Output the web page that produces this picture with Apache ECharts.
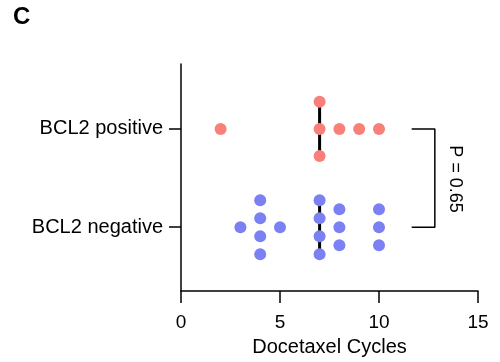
<!DOCTYPE html>
<html>
<head>
<meta charset="utf-8">
<script src="https://cdn.jsdelivr.net/npm/echarts@6/dist/echarts.min.js"></script>
<style>html,body{margin:0;padding:0;background:#fff;}#c{width:500px;height:362px;}</style>
</head>
<body>
<div id="c"></div>
<script>
// ---- data ----
const categories = ['BCL2 negative', 'BCL2 positive'];
const positiveCycles = [2, 7, 7, 7, 8, 9, 10];
const negativeCycles = [3, 4, 4, 4, 4, 5, 7, 7, 7, 7, 8, 8, 8, 10, 10, 10];
const xTicks = [0, 5, 10, 15];
const pValueText = 'P = 0.65';

// ---- style ----
const FONT = 'Liberation Sans, Arial, sans-serif';
const posColor = '#F98079';
const negColor = '#7B80F3';

// swarm layout: stack duplicates vertically around the group line
function swarm(values, groupIndex, spacing) {
  const counts = {};
  values.forEach(v => counts[v] = (counts[v] || 0) + 1);
  const seen = {};
  return values.map(v => {
    const n = counts[v];
    const i = seen[v] = (seen[v] === undefined ? 0 : seen[v] + 1);
    return [v, groupIndex + ((n - 1) / 2 - i) * spacing];
  });
}
function median(arr) {
  const s = arr.slice().sort((a, b) => a - b);
  const m = Math.floor(s.length / 2);
  return s.length % 2 ? s[m] : (s[m - 1] + s[m]) / 2;
}
const medHalf = 0.275;
const posMed = median(positiveCycles);
const negMed = median(negativeCycles);

const chart = echarts.init(document.getElementById('c'));
chart.setOption({
  animation: false,
  backgroundColor: '#fff',
  grid: { left: 181, right: 22, top: 64, bottom: 67 },
  xAxis: {
    type: 'value', min: xTicks[0], max: xTicks[xTicks.length - 1], interval: 5,
    name: 'Docetaxel Cycles', nameLocation: 'middle', nameGap: 45,
    nameTextStyle: { fontFamily: FONT, fontSize: 20, color: '#000' },
    axisLine: { show: true, onZero: false, lineStyle: { color: '#000', width: 1.5 } },
    axisTick: { show: true, length: 12, lineStyle: { color: '#000', width: 1.5 } },
    axisLabel: { fontFamily: FONT, fontSize: 19, color: '#000', margin: 22 },
    splitLine: { show: false }
  },
  yAxis: {
    type: 'value', min: -0.65, max: 1.66,
    axisLine: { show: true, onZero: false, lineStyle: { color: '#000', width: 1.5 } },
    axisTick: { show: true, length: 12, customValues: [0, 1], lineStyle: { color: '#000', width: 1.5 } },
    axisLabel: {
      customValues: [0, 1], fontFamily: FONT, fontSize: 20, color: '#000', margin: 18,
      formatter: v => categories[Math.round(v)]
    },
    splitLine: { show: false }
  },
  series: [
    {
      type: 'line', data: [[posMed, 1 - medHalf], [posMed, 1 + medHalf]],
      symbol: 'none', lineStyle: { color: '#000', width: 3 }, z: 1
    },
    {
      type: 'line', data: [[negMed, 0 - medHalf], [negMed, 0 + medHalf]],
      symbol: 'none', lineStyle: { color: '#000', width: 3 }, z: 1
    },
    {
      type: 'scatter', data: swarm(positiveCycles, 1, 0.275),
      symbolSize: 12, itemStyle: { color: posColor, opacity: 1 }, z: 3
    },
    {
      type: 'scatter', data: swarm(negativeCycles, 0, 0.183),
      symbolSize: 12, itemStyle: { color: negColor, opacity: 1 }, z: 3
    },
    {
      type: 'line', data: [[11.65, 1], [12.82, 1], [12.82, 0], [11.65, 0]],
      symbol: 'none', lineStyle: { color: '#000', width: 1.5 }, z: 2
    }
  ],
  graphic: [
    { type: 'text', left: 13, top: 5, style: { text: 'C', font: 'bold 24px ' + FONT, fill: '#000' } },
    {
      type: 'text', x: 455, y: 179, rotation: -Math.PI / 2,
      style: { text: pValueText, font: '18px ' + FONT, fill: '#000', align: 'center', verticalAlign: 'middle' }
    }
  ]
});
</script>
</body>
</html>
